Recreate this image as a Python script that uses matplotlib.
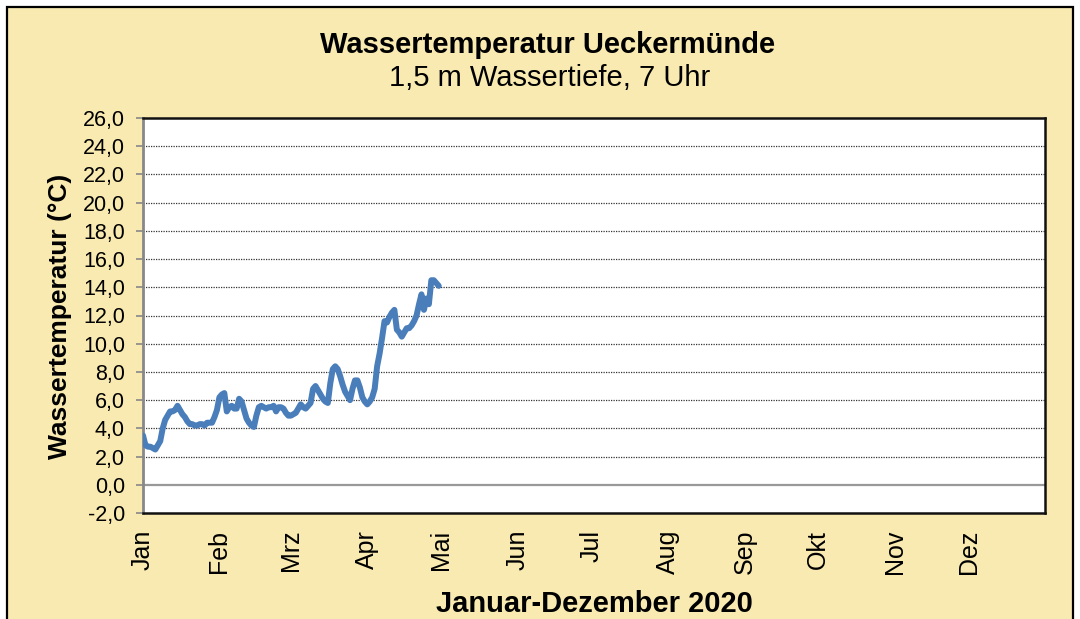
import matplotlib
matplotlib.use("Agg")
import matplotlib.pyplot as plt
from matplotlib.patches import Rectangle

# ---- data ----
title = "Wassertemperatur Ueckermünde"
subtitle = "1,5 m Wassertiefe, 7 Uhr"
xlabel = "Januar-Dezember 2020"
ylabel = "Wassertemperatur (°C)"
month_labels = ["Jan", "Feb", "Mrz", "Apr", "Mai", "Jun", "Jul", "Aug", "Sep", "Okt", "Nov", "Dez"]
month_starts = [0, 31, 60, 91, 121, 152, 182, 213, 244, 274, 305, 335]
day_of_year = list(range(0, 121))
temperature = [
    3.5, 2.8, 2.7, 2.7, 2.6, 2.5, 2.8, 3.1, 4.0, 4.6,
    4.9, 5.2, 5.2, 5.3, 5.6, 5.3, 5.0, 4.8, 4.5, 4.3,
    4.3, 4.2, 4.2, 4.3, 4.3, 4.2, 4.4, 4.4, 4.4, 4.8,
    5.3, 6.2, 6.4, 6.5, 5.2, 5.5, 5.6, 5.4, 5.4, 6.1,
    5.9, 5.3, 4.7, 4.4, 4.2, 4.1, 4.9, 5.5, 5.6, 5.5,
    5.4, 5.5, 5.5, 5.6, 5.2, 5.5, 5.5, 5.4, 5.1, 4.9,
    4.9, 5.0, 5.1, 5.4, 5.7, 5.5, 5.4, 5.6, 5.8, 6.8,
    7.0, 6.7, 6.4, 6.1, 5.9, 5.8, 7.2, 8.2, 8.4, 8.2,
    7.7, 7.1, 6.6, 6.3, 6.0, 6.8, 7.4, 7.4, 6.9, 6.2,
    5.9, 5.7, 5.9, 6.2, 6.8, 8.4, 9.3, 10.4, 11.6, 11.5,
    11.9, 12.2, 12.4, 11.0, 10.8, 10.5, 10.8, 11.1, 11.1, 11.3,
    11.6, 12.0, 12.8, 13.5, 12.4, 13.2, 12.8, 14.5, 14.5, 14.3,
    14.1,
]
y_ticks = [-2, 0, 2, 4, 6, 8, 10, 12, 14, 16, 18, 20, 22, 24, 26]

# ---- style ----
plt.rcParams["font.family"] = ["Liberation Sans", "DejaVu Sans"]
BG = "#F8EAB0"
LINE = "#4A7EBB"

W, H = 1080, 619
fig = plt.figure(figsize=(W / 100, H / 100), dpi=100)
fig.patch.set_facecolor("white")

# outer panel with black border
fig.patches.append(Rectangle((7 / W, -0.05), (1073 - 7) / W, (H - 7) / H + 0.05,
                             transform=fig.transFigure, facecolor=BG,
                             edgecolor="black", linewidth=1.6, zorder=-5))

ax = fig.add_axes([143 / W, 1 - 513 / H, (1045 - 143) / W, (513 - 118) / H])
ax.set_zorder(2)
ax.set_facecolor("white")

# grid lines
for v in y_ticks:
    if v == 0:
        ax.axhline(v, color="#999999", lw=1.6, zorder=1)
    elif v not in (-2, 26):
        ax.axhline(v, color="#333333", lw=0.9, ls=(0, (1, 1)), zorder=1)

ax.plot(day_of_year, temperature, color=LINE, lw=4.3, solid_capstyle="round",
        solid_joinstyle="round", zorder=3)

ax.set_xlim(0, 366)
ax.set_ylim(-2, 26)
ax.set_yticks(y_ticks)
ax.set_yticklabels([f"{v:.1f}".replace(".", ",") for v in y_ticks], fontsize=15.5)
ax.set_xticks(month_starts)
ax.set_xticklabels(month_labels, rotation=90, fontsize=18, va="top", ha="center")
ax.tick_params(axis="x", length=0, pad=12)
ax.tick_params(axis="y", length=5, width=1.2, color="#888888", pad=8)

for s in ["top", "right", "bottom"]:
    ax.spines[s].set_color("#111111")
    ax.spines[s].set_linewidth(1.8)
ax.spines["left"].set_color("#888888")
ax.spines["left"].set_linewidth(2.0)

fig.text(548 / W, 1 - 45 / H, title, ha="center", va="center",
         fontsize=21, fontweight="bold")
fig.text(550 / W, 1 - 78 / H, subtitle, ha="center", va="center", fontsize=21)
fig.text(594 / W, 1 - 604 / H, xlabel, ha="center", va="center",
         fontsize=21, fontweight="bold")
fig.text(60 / W, 1 - 316 / H, ylabel, ha="center", va="center", rotation=90,
         fontsize=19, fontweight="bold")

fig.savefig("out.png", dpi=100, facecolor=fig.get_facecolor())
